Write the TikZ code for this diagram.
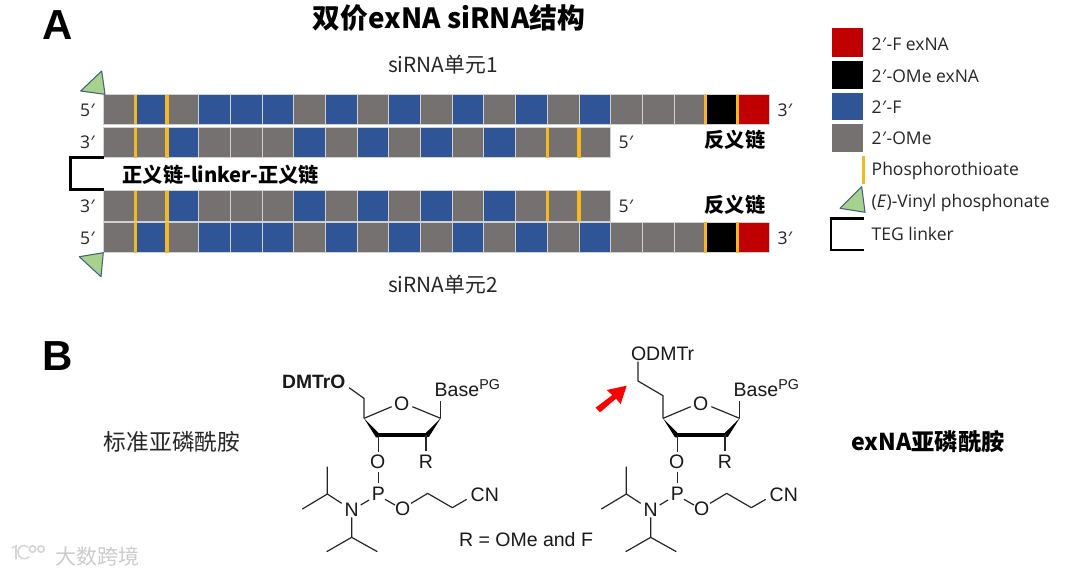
\documentclass[tikz,border=0pt]{standalone}
\usepackage{fontspec}
\newfontfamily\cjk{Noto Sans CJK SC}
\newfontfamily\seg{Open Sans}
\newfontfamily\ari{Liberation Sans}
\newcommand{\fsz}[1]{\fontsize{\dimexpr #1pt*3/4\relax}{\dimexpr #1pt\relax}\selectfont}
\newcommand{\pr}{\textit{′}}
\definecolor{cg}{HTML}{767171}
\definecolor{cb}{HTML}{2F5597}
\definecolor{cr}{HTML}{C00000}
\definecolor{cy}{HTML}{F7B71E}
\definecolor{cgreen}{HTML}{A9D18E}
\definecolor{cedge}{HTML}{3F6478}
\tikzset{
  lab/.style={inner sep=0pt,outer sep=0pt,text=black!85,font=\cjk\fsz{20.8}},
  bold/.style={inner sep=0pt,outer sep=0pt,text=black,font=\cjk\bfseries\fsz{20.2}},
  prm/.style={inner sep=0pt,outer sep=0pt,text=black!85,font=\seg\fsz{17.5}},
  leg/.style={inner sep=0pt,outer sep=0pt,anchor=west,text=black!85,font=\seg\fsz{17.5}},
  atom/.style={inner sep=0pt,outer sep=0pt,text=black!90,font=\ari\fsz{19.5}},
  sup/.style={inner sep=0pt,outer sep=0pt,text=black!90,font=\ari\fsz{14.3}},
  bond/.style={draw=black!85,line width=0.9pt,line join=round},
  cellbox/.style={draw=white!82!black,line width=0.7pt},
  tick/.style={draw=cy,line width=2.4pt},
  vp/.style={fill=cgreen,draw=cedge,line width=0.8pt,line join=round},
  teg/.style={draw=black,line width=2pt,line join=miter},
}
\newcommand{\strand}[3]{% y1, y2, colour list
  \foreach \c [count=\i from 0] in {#3}{
    \fill[\c] ({103.5+\i*31.7},#1) rectangle ({103.5+(\i+1)*31.7},#2);
    \draw[cellbox] ({103.5+\i*31.7},#1) rectangle ({103.5+(\i+1)*31.7},#2);
  }}
\newcommand{\ticks}[3]{\foreach \b in {#3}{\draw[tick] ({103.5+\b*31.7},#1) -- ({103.5+\b*31.7},#2);}}
\newcommand{\molcore}{%
  \draw[bond] (282,235)--(365,200);
  \draw[bond] (427,200)--(512,235);
  \fill[black] (282,235)--(325,278)--(325,292)--(318,292)--cycle;
  \fill[black] (322,279) rectangle (470,292);
  \fill[black] (512,235)--(468,278)--(468,292)--(477,290)--cycle;
  \draw[bond] (512,235)--(512,183);
  \draw[bond] (325,285)--(325,335);
  \draw[bond] (325,395)--(325,428);
  \draw[bond] (297,480)--(272,495);
  \draw[bond] (345,478)--(375,495);
  \draw[bond] (423,490)--(473,460)--(547,503)--(590,478);
  \draw[bond] (215,490)--(172,462)--(172,380);
  \draw[bond] (172,462)--(97,507);
  \draw[bond] (245,532)--(245,592)--(170,635);
  \draw[bond] (245,592)--(322,635);
  \draw[bond] (468,285)--(468,332);
  \node[atom] (ringO) at (395,192) {O};
  \node[atom,anchor=west] (base) at (494,150) {Base};
  \node[sup,anchor=west] (pg) at (628,133) {PG};
  \node[atom] (o3) at (323,365) {O};
  \node[atom] (P) at (325,462) {P};
  \node[atom] (N) at (245,510) {N};
  \node[atom] (o5) at (398,505) {O};
  \node[atom,anchor=west] (cn) at (602,465) {CN};
  \node[atom] (R) at (468,365) {R};
}
\begin{document}
\begin{tikzpicture}[x=0.75pt,y=-0.75pt]
\useasboundingbox (0,0) rectangle (1080,576);
\fill[white] (0,0) rectangle (1080,576);
% panel letters and title
\node[inner sep=0pt,font=\ari\bfseries\fsz{42}] (A) at (58,25) {A};
\node[inner sep=0pt,font=\ari\bfseries\fsz{42}] (B) at (57.5,356) {B};
\node[bold,font=\cjk\bfseries\fsz{27.8}] (title) at (449,18) {双价exNA siRNA结构};
\node[lab] (u1) at (443,65) {siRNA单元1};
\node[lab] (u2) at (443,285) {siRNA单元2};
% strands
\strand{94.5}{124.3}{cg,cb,cg,cb,cb,cb,cg,cb,cg,cb,cg,cb,cg,cb,cg,cb,cg,cg,cg,black,cr}
\strand{127.7}{157.5}{cg,cg,cb,cg,cg,cg,cb,cg,cb,cg,cb,cg,cb,cg,cg,cg}
\strand{190.5}{221.3}{cg,cg,cb,cg,cg,cg,cb,cg,cb,cg,cb,cg,cb,cg,cg,cg}
\strand{222.3}{252.7}{cg,cb,cg,cb,cb,cb,cg,cb,cg,cb,cg,cb,cg,cb,cg,cb,cg,cg,cg,black,cr}
\ticks{94.5}{124.3}{1,2,19,20}
\ticks{127.7}{157.5}{1,2,14,15}
\ticks{190.5}{221.3}{1,2,14,15}
\ticks{222.3}{252.7}{1,2,19,20}
% vinyl phosphonate triangles
\draw[vp] (101.7,71)--(80.7,91)--(105,94.3)--cycle;
\draw[vp] (103.3,252.7)--(79.3,256.7)--(101,276.7)--cycle;
% linker
\draw[teg] (104,157.7)--(70.7,157.7)--(70.7,189.3)--(104,189.3);
\node[bold,anchor=west] (link) at (122.7,175) {正义链-linker-正义链};
% end labels
\node[prm] (l1) at (87.5,110) {5\pr};
\node[prm] (l2) at (87.5,142) {3\pr};
\node[prm] (l3) at (87.5,206) {3\pr};
\node[prm] (l4) at (87.5,238) {5\pr};
\node[prm] (r1) at (785,110) {3\pr};
\node[prm] (r2) at (626,142) {5\pr};
\node[prm] (r3) at (626,206) {5\pr};
\node[prm] (r4) at (785,238) {3\pr};
\node[bold] (anti1) at (735,140) {反义链};
\node[bold] (anti2) at (735,205) {反义链};
% legend
\fill[cr] (831.7,27.7) rectangle (862.7,57.3);
\fill[black] (831.7,60.7) rectangle (862.7,89);
\fill[cb] (831.7,92.7) rectangle (862.7,120);
\fill[cg] (831.7,124.3) rectangle (862.7,152.3);
\draw[tick] (863.3,155.7)--(863.3,184);
\draw[vp] (861.7,186.7)--(840,208.3)--(865,212.3)--cycle;
\draw[teg] (864.3,218.3)--(831,218.3)--(831,250)--(864.3,250);
\node[leg] (k1) at (871.7,44) {2\pr-F exNA};
\node[leg] (k2) at (871.7,76) {2\pr-OMe exNA};
\node[leg] (k3) at (871.7,107) {2\pr-F};
\node[leg] (k4) at (871.7,138) {2\pr-OMe};
\node[leg] (k5) at (871.7,171) {Phosphorothioate};
\node[leg] (k6) at (871.7,203) {(\textit{E})-Vinyl phosphonate};
\node[leg] (k7) at (871.7,234) {TEG linker};
% panel B captions
\node[inner sep=0pt,text=black!85,font=\cjk\fsz{22.7}] (std) at (172,442) {标准亚磷酰胺};
\node[bold,font=\cjk\bfseries\fsz{23.2}] (exna) at (928,442) {exNA亚磷酰胺};
\node[inner sep=0pt,text=black!90,font=\ari\fsz{19.5}] (rr) at (526,540) {R = OMe and F};
% left molecule
\begin{scope}[x=.25pt,y=-.25pt,shift={(810,1020)},name prefix=L-]
  \molcore
  \draw[bond] (282,235)--(282,175)--(237,143);
  \node[atom,font=\ari\bfseries\fsz{19.3},anchor=east] (dmt) at (226,125) {DMTrO};
\end{scope}
% right molecule
\begin{scope}[x=.25pt,y=-.25pt,shift={(1707,1020)},name prefix=R-]
  \molcore
  \draw[bond] (282,235)--(282,167)--(207,123)--(207,65);
  \node[atom,anchor=west] (dmt) at (186,42) {ODMTr};
\end{scope}
% red arrow
\begin{scope}[x=.25pt,y=-.25pt,shift={(1740,1020)}]
  \fill[red] (140,137)--(80,150)--(97,165)--(47,203)--(60,217)--(108,176)--(122,192)--cycle;
\end{scope}
% watermark
\begin{scope}[draw=black!16,line width=1.2pt,line cap=round]
  \draw (12,548)--(16,546)--(16,559);
  \draw (28,547) .. controls (23,543) and (18,547) .. (18,552) .. controls (18,558) and (24,561) .. (29,557);
  \draw (32.5,549) circle (3.2);
  \draw (41,549) circle (3.2);
\end{scope}
\node[inner sep=0pt,text=black!20,font=\cjk\fsz{21}] (wm) at (97,556) {大数跨境};
\end{tikzpicture}
\end{document}
